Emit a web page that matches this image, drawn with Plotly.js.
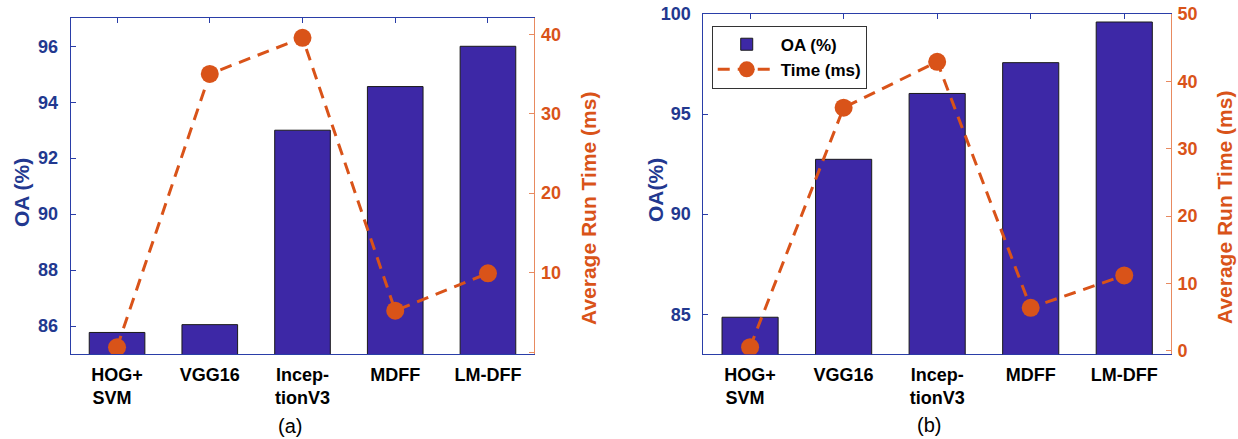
<!DOCTYPE html>
<html>
<head>
<meta charset="utf-8">
<script src="https://cdn.plot.ly/plotly-3.0.1.min.js"></script>
<style>html,body{margin:0;padding:0;background:#fff;}#chart{width:1238px;height:439px;}</style>
</head>
<body>
<div id="chart"></div>
<script>
var categories = ['HOG+<br>SVM\u00a0\u00a0', 'VGG16', 'Incep-<br>tionV3', 'MDFF', 'LM-DFF'];
var oaA = [85.77, 86.05, 93.0, 94.56, 96.0];
var timeA = [0.6, 35.0, 39.55, 5.2, 9.9];
var oaB = [84.85, 92.74, 96.03, 97.57, 99.6];
var timeB = [0.55, 36.1, 42.9, 6.4, 11.2];
var ticksA = [86, 88, 90, 92, 94, 96];
var timeTicksA = [0, 10, 20, 30, 40];
var timeTickTextA = ['', '10', '20', '30', '40'];
var ticksB = [85, 90, 95, 100];
var timeTicksB = [0, 10, 20, 30, 40, 50];

var BLUE_BAR = '#3d28a6';
var BLUE = '#22388f';
var BLUE_LINE = '#2a3ea8';
var ORANGE = '#d95319';
var FONT = 'Liberation Sans, Arial, sans-serif';

function barTrace(y, xa, ya, show) {
  return {type: 'bar', x: categories, y: y, xaxis: xa, yaxis: ya, width: 0.6,
    name: 'OA (%)', showlegend: show,
    marker: {color: BLUE_BAR, line: {color: '#1a1a1a', width: 1}}};
}
function lineTrace(y, xa, ya, show) {
  return {type: 'scatter', mode: 'lines+markers', x: categories, y: y, xaxis: xa, yaxis: ya,
    name: 'Time (ms)', showlegend: show,
    line: {color: ORANGE, width: 3, dash: '12px,8px'},
    marker: {color: ORANGE, size: 18}};
}

var data = [
  barTrace(oaA, 'x', 'y', false),
  lineTrace(timeA, 'x', 'y2', false),
  barTrace(oaB, 'x2', 'y3', true),
  lineTrace(timeB, 'x2', 'y4', true)
];

var xCommon = {
  type: 'category', range: [-0.5, 4.5], showline: true, linecolor: BLUE_LINE, linewidth: 1,
  mirror: 'ticks', ticks: 'inside', ticklen: 5, tickcolor: BLUE_LINE, layer: 'below traces',
  tickfont: {family: FONT, size: 18, color: '#000', weight: 'bold'}, ticklabelstandoff: 4,
  showgrid: false, zeroline: false
};
function leftAxis(range, vals, dom, anchor) {
  return {range: range, domain: dom, anchor: anchor, tickvals: vals, showline: true, linecolor: BLUE_LINE,
    linewidth: 1, ticks: 'inside', ticklen: 5, tickcolor: BLUE_LINE, showgrid: false, zeroline: false,
    tickfont: {family: FONT, size: 18, color: BLUE, weight: 'bold'}, ticklabelstandoff: 8};
}
function rightAxis(range, vals, text, overlay, anchor) {
  return {range: range, overlaying: overlay, side: 'right', anchor: anchor, tickvals: vals, ticktext: text,
    showline: true, linecolor: '#e88a60', linewidth: 1, ticks: 'inside', ticklen: 5, tickcolor: '#e88a60',
    showgrid: false, zeroline: false,
    tickfont: {family: FONT, size: 18, color: ORANGE, weight: 'bold'}, ticklabelstandoff: 2};
}

var domA = [0.1936, 0.9583];
var domB = [0.1930, 0.9681];

function title(text, x, y, color) {
  return {text: text, xref: 'paper', yref: 'paper', x: x / 1238, y: 1 - y / 439,
    xanchor: 'center', yanchor: 'middle', textangle: -90, showarrow: false,
    font: {family: FONT, size: 21, color: color, weight: 'bold'}};
}
function caption(text, x, y) {
  return {text: text, xref: 'paper', yref: 'paper', x: x / 1238, y: 1 - y / 439,
    xanchor: 'center', yanchor: 'middle', showarrow: false,
    font: {family: FONT, size: 20, color: '#000'}};
}

var layout = {
  width: 1238, height: 439,
  margin: {l: 0, r: 0, t: 0, b: 0},
  paper_bgcolor: '#fff', plot_bgcolor: 'rgba(0,0,0,0)',
  xaxis: Object.assign({}, xCommon, {domain: [0.0571, 0.4316], anchor: 'y'}),
  xaxis2: Object.assign({}, xCommon, {domain: [0.5681, 0.9459], anchor: 'y3'}),
  yaxis: leftAxis([85, 97], ticksA, domA, 'x'),
  yaxis2: rightAxis([-0.25, 42], timeTicksA, timeTickTextA, 'y', 'x'),
  yaxis3: leftAxis([83, 100], ticksB, domB, 'x2'),
  yaxis4: rightAxis([-0.5, 50], timeTicksB, null, 'y3', 'x2'),
  showlegend: true,
  legend: {x: 0.5749, y: 0.9415, xanchor: 'left', yanchor: 'top', bgcolor: '#fff',
    bordercolor: '#333', borderwidth: 1, font: {family: FONT, size: 17, color: '#000', weight: 'bold'},
    itemwidth: 58, tracegroupgap: 0},
  annotations: [
    title('OA (%)', 21, 193, BLUE),
    title('Average Run Time (ms)', 588, 209, ORANGE),
    title('OA(%)', 655, 190, BLUE),
    title('Average Run Time (ms)', 1224, 208, ORANGE),
    caption('(a)', 290, 426),
    caption('(b)', 929, 425)
  ]
};

Plotly.newPlot('chart', data, layout, {displayModeBar: false, staticPlot: true});
</script>
</body>
</html>
